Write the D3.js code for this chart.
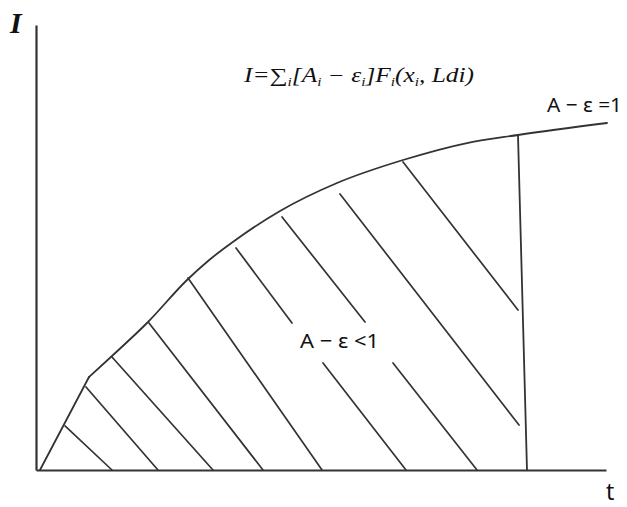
<!DOCTYPE html>
<html>
<head>
<meta charset="utf-8">
<script src="https://cdn.jsdelivr.net/npm/d3@7"></script>
<style>
  body { margin: 0; background: #fff; }
  svg { display: block; }
  .ink { stroke: #333; fill: none; stroke-linecap: round; }
  .sans { font-family: "Noto Sans", "Open Sans", sans-serif; fill: #111; }
  .serif { font-family: "Liberation Serif", "DejaVu Serif", serif; fill: #111; }
</style>
</head>
<body>
<div class="chart"></div>
<script>
// 曲線 I(t)：先是一段直線，之後平滑上升
const kinkCurve = [[0.7, 0], [9.3, 20.9]];
const smoothCurve = [
  [9.3, 20.9], [13.33, 25.62], [19.65, 33.26], [26.49, 42.7], [30.18, 46.97],
  [35.26, 51.91], [42.81, 58.2], [52.81, 64.49], [64.39, 69.66], [75.61, 73.48],
  [84.56, 75.28], [100.18, 77.98]
];
// 斜線陰影 [x1, y1, x2, y2]
const hatchLines = [
  [5.09, 9.89, 13.33, 0],
  [8.77, 18.65, 21.40, 0],
  [13.33, 25.39, 31.05, 0],
  [19.82, 33.03, 39.82, 0],
  [26.67, 43.15, 50.18, 0],
  [35.09, 49.89, 44.91, 33.03],
  [50.35, 24.04, 64.91, 0],
  [43.16, 56.85, 57.72, 33.26],
  [62.63, 24.04, 77.37, 0],
  [53.33, 62.02, 84.74, 10.11],
  [64.39, 69.21, 84.56, 35.96]
];
// 右邊的分界線
const boundaryLine = [[84.56, 75.28], [86.14, 0]];
const labels = ["A − ε =1", "A − ε <1"];

const svg_width = 627, svg_height = 507;
const svg = d3.select('.chart').append('svg')
  .attr('width', svg_width).attr('height', svg_height);

const x = d3.scaleLinear().domain([0, 100]).range([36, 606]);
const y = d3.scaleLinear().domain([0, 100]).range([470, 25]);

// 座標軸 (不要刻度)
const xAxis = d3.axisBottom(x).tickValues([]).tickSizeOuter(0);
const yAxis = d3.axisLeft(y).tickValues([]).tickSizeOuter(0);
svg.append('g').attr('transform', `translate(0, ${y(0)})`).call(xAxis)
  .select('.domain').attr('stroke', '#333').attr('stroke-width', 2.2);
svg.append('g').attr('transform', `translate(${x(0)}, 0)`).call(yAxis)
  .select('.domain').attr('stroke', '#333').attr('stroke-width', 2.2);

const line = d3.line().x(d => x(d[0])).y(d => y(d[1]));
svg.append('path').attr('class', 'ink').attr('stroke-width', 1.8)
  .attr('d', line(kinkCurve));
svg.append('path').attr('class', 'ink').attr('stroke-width', 1.8)
  .attr('d', line.curve(d3.curveMonotoneX)(smoothCurve));

svg.selectAll('.hatch').data(hatchLines).enter().append('line')
  .attr('class', 'hatch ink').attr('stroke-width', 1.7)
  .attr('x1', d => x(d[0])).attr('y1', d => y(d[1]))
  .attr('x2', d => x(d[2])).attr('y2', d => y(d[3]));

svg.append('line').attr('class', 'ink').attr('stroke-width', 1.8)
  .attr('x1', x(boundaryLine[0][0])).attr('y1', y(boundaryLine[0][1]))
  .attr('x2', x(boundaryLine[1][0])).attr('y2', y(boundaryLine[1][1]));

// 軸標題
svg.append('text').attr('class', 'serif').attr('x', 10).attr('y', 33)
  .style('font-size', '30px').style('font-weight', 'bold').style('font-style', 'italic')
  .text('I');
svg.append('text').attr('class', 'sans').attr('x', 606).attr('y', 500)
  .style('font-size', '23px').text('t');

// 標註
svg.append('text').attr('class', 'sans').attr('x', 547).attr('y', 112)
  .attr('textLength', 75).attr('lengthAdjust', 'spacingAndGlyphs')
  .style('font-size', '20px').text(labels[0]);
svg.append('text').attr('class', 'sans').attr('x', 300).attr('y', 348)
  .attr('textLength', 79).attr('lengthAdjust', 'spacingAndGlyphs')
  .style('font-size', '20px').text(labels[1]);

// 公式 I=∑i[Ai − εi]Fi(xi, Ldi)
const formula = svg.append('text').attr('class', 'serif')
  .attr('x', 244).attr('y', 82)
  .attr('textLength', 230).attr('lengthAdjust', 'spacingAndGlyphs')
  .style('font-size', '20px').style('font-style', 'italic');
const parts = [
  ['I=∑', 0], ['i', 1], ['[A', 0], ['i', 1], [' − ε', 0], ['i', 1],
  [']F', 0], ['i', 1], ['(x', 0], ['i', 1], [', Ldi)', 0]
];
let shifted = false;
parts.forEach(p => {
  const sub = p[1] === 1;
  const dy = sub && !shifted ? 4 : (!sub && shifted ? -4 : 0);
  shifted = sub;
  formula.append('tspan').attr('dy', dy)
    .style('font-size', sub ? '12px' : '20px').text(p[0]);
});
</script>
</body>
</html>
